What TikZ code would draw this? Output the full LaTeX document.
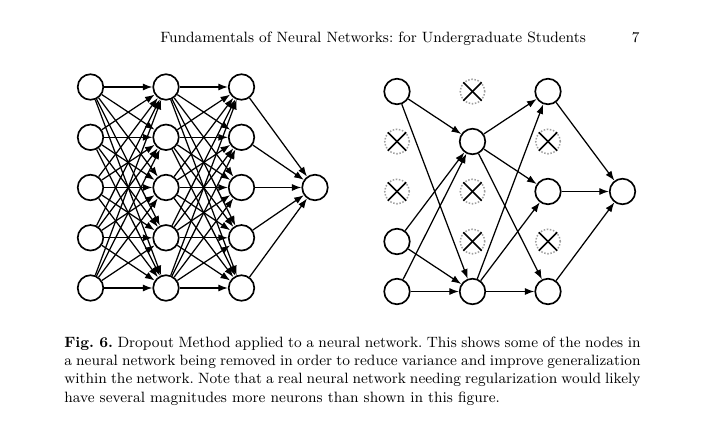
\documentclass[tikz,border=0pt]{standalone}
\usetikzlibrary{arrows.meta}
\begin{document}
\frenchspacing
\begin{tikzpicture}[x=0.6024pt,y=-0.6024pt,
  neuron/.style={circle,draw,line width=1pt,minimum size=15.4pt,inner sep=0pt,fill=white},
  dropped/.style={circle,draw=gray!75,densely dotted,line width=0.9pt,minimum size=14.8pt,inner sep=0pt},
  xmark/.style={line width=0.9pt,black},
  conn/.style={-{Latex[length=5.8pt,width=4.3pt]},line width=0.75pt},
  txt/.style={inner sep=0pt,font=\fontsize{9}{11}\selectfont}]
\useasboundingbox[fill=white] (0,0) rectangle (705,433);
% header
\node[txt,anchor=base west] (head) at (160,42) {Fundamentals of Neural Networks: for Undergraduate Students};
\node[txt,anchor=base east] (page) at (640,42) {7};
% left network
\foreach \i/\y in {1/87,2/137.3,3/187.5,4/237.8,5/288}{
  \node[neuron] (La\i) at (90.5,\y) {};
  \node[neuron] (Lb\i) at (166,\y) {};
  \node[neuron] (Lc\i) at (241.5,\y) {};
}
\node[neuron] (Ld) at (315,187.5) {};
\foreach \i in {1,...,5}{
  \foreach \j in {1,...,5}{
    \draw[conn] (La\i) -- (Lb\j);
    \draw[conn] (Lb\i) -- (Lc\j);
  }
  \draw[conn] (Lc\i) -- (Ld);
}
% right network
\foreach \i/\y in {1/91.5,2/141.5,3/191.5,4/241.5,5/291.5}{
  \coordinate (ra\i) at (397,\y);
  \coordinate (rb\i) at (472.5,\y);
  \coordinate (rc\i) at (548,\y);
}
\node[neuron] (Ra1) at (ra1) {};
\node[neuron] (Ra4) at (ra4) {};
\node[neuron] (Ra5) at (ra5) {};
\node[neuron] (Rb2) at (rb2) {};
\node[neuron] (Rb5) at (rb5) {};
\node[neuron] (Rc1) at (rc1) {};
\node[neuron] (Rc3) at (rc3) {};
\node[neuron] (Rc5) at (rc5) {};
\node[neuron] (Rd) at (622.5,191.5) {};
\foreach \n in {ra2,ra3,rb1,rb3,rb4,rc2,rc4}{
  \node[dropped] (X\n) at (\n) {};
  \draw[xmark] (X\n.north east) -- (X\n.south west);
  \draw[xmark] (X\n.north west) -- (X\n.south east);
}
\foreach \a in {Ra1,Ra4,Ra5}{
  \draw[conn] (\a) -- (Rb2);
  \draw[conn] (\a) -- (Rb5);
}
\foreach \b in {Rb2,Rb5}{
  \draw[conn] (\b) -- (Rc1);
  \draw[conn] (\b) -- (Rc3);
  \draw[conn] (\b) -- (Rc5);
}
\foreach \c in {Rc1,Rc3,Rc5}{
  \draw[conn] (\c) -- (Rd);
}
% caption
\node[txt,anchor=north west,text width=12.2cm,align=justify] (cap) at (64,336.5)
  {\textbf{Fig.~6.}\ Dropout Method applied to a neural network. This shows some of the nodes in a neural network being removed in order to reduce variance and improve generalization within the network. Note that a real neural network needing regularization would likely have several magnitudes more neurons than shown in this figure.};
\end{tikzpicture}
\end{document}
